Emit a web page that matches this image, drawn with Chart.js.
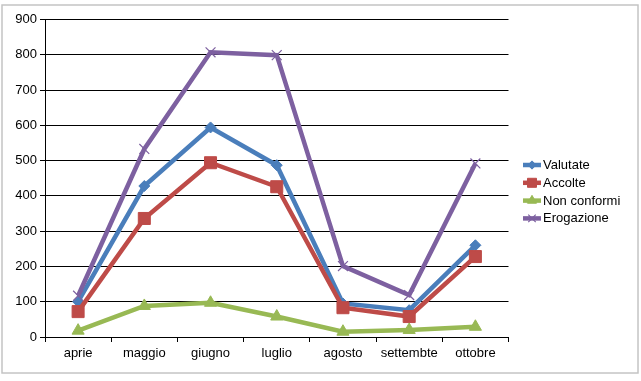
<!DOCTYPE html>
<html>
<head>
<meta charset="utf-8">
<script src="https://cdn.jsdelivr.net/npm/chart.js@4/dist/chart.umd.min.js"></script>
<style>
  html, body { margin: 0; padding: 0; background: #fff; }
  #wrap { width: 641px; height: 381px; }
</style>
</head>
<body>
<div id="wrap"><canvas id="chart" width="641" height="381"></canvas></div>
<script>
const months = ['aprie', 'maggio', 'giugno', 'luglio', 'agosto', 'settembte', 'ottobre'];
const valutate = [100, 428, 594, 487, 95, 76, 260];
const accolte = [72, 336, 494, 426, 83, 58, 228];
const nonConformi = [18, 88, 97, 58, 15, 20, 29];
const erogazione = [117, 533, 807, 799, 201, 119, 492];
const yTicks = [0, 100, 200, 300, 400, 500, 600, 700, 800, 900];

const font = { family: '"Liberation Sans", Arial, sans-serif', size: 13 };

function series(label, data, color, style, radius, order, ptBorder) {
    return {
        label: label,
        data: data,
        borderColor: color,
        backgroundColor: color,
        borderWidth: 4.5,
        pointStyle: style,
        pointRadius: radius,
        pointBorderWidth: ptBorder,
        pointBackgroundColor: color,
        pointBorderColor: color,
        tension: 0,
        order: order
    };
}

const datasets = [
    series('Valutate', valutate, '#4a7ebb', 'rectRot', 5.5, 4, 1),
    series('Accolte', accolte, '#be4b48', 'rect', 8.5, 3, 1),
    series('Non conformi', nonConformi, '#98b954', 'triangle', 7, 2, 1),
    series('Erogazione', erogazione, '#7d60a0', 'crossRot', 7, 1, 1.2)
];

// border round the whole chart, and a legend with line + marker
const framePlugin = {
    id: 'frame',
    beforeDraw(chart) {
        const ctx = chart.ctx;
        ctx.save();
        ctx.fillStyle = '#fff';
        ctx.fillRect(0, 0, chart.width, chart.height);
        ctx.strokeStyle = '#c4c4c4';
        ctx.lineWidth = 1.5;
        ctx.strokeRect(2, 5, 636, 368);
        ctx.restore();
    },
    afterDraw(chart) {
        const ctx = chart.ctx;
        ctx.save();
        ctx.font = font.size + 'px ' + font.family;
        ctx.textBaseline = 'middle';
        ctx.fillStyle = '#000';
        chart.data.datasets.forEach((ds, i) => {
            const y = 165 + i * 17.8;
            ctx.strokeStyle = ds.borderColor;
            ctx.lineWidth = 4.5;
            ctx.beginPath();
            ctx.moveTo(523, y);
            ctx.lineTo(541, y);
            ctx.stroke();
            ctx.fillStyle = ds.borderColor;
            ctx.strokeStyle = ds.borderColor;
            ctx.lineWidth = ds.pointBorderWidth;
            Chart.helpers.drawPoint(ctx, { pointStyle: ds.pointStyle, radius: ds.pointRadius * 0.75, rotation: 0, borderWidth: ds.pointBorderWidth }, 532, y);
            ctx.fillStyle = '#000';
            ctx.fillText(ds.label, 543, y + 0.5);
        });
        ctx.restore();
    }
};

new Chart(document.getElementById('chart'), {
    type: 'line',
    data: { labels: months, datasets: datasets },
    options: {
        responsive: false,
        animation: false,
        layout: { padding: { left: 0, top: 19.5, right: 132.5, bottom: 0 } },
        plugins: { legend: { display: false }, tooltip: { enabled: false } },
        scales: {
            x: {
                type: 'category',
                offset: true,
                grid: { offset: true, drawOnChartArea: false, drawTicks: true, tickLength: 5, color: '#000' },
                border: { color: '#000', width: 1 },
                ticks: { color: '#000', font: font, padding: 4, maxRotation: 0 },
                afterFit(scale) { scale.height = 44; }
            },
            y: {
                min: 0,
                max: 900,
                afterBuildTicks(scale) { scale.ticks = yTicks.map(v => ({ value: v })); },
                grid: { color: '#000', lineWidth: 1, tickLength: 5 },
                border: { color: '#000', width: 1 },
                ticks: { color: '#000', font: font, padding: 3 },
                afterFit(scale) { scale.width = 45; }
            }
        }
    },
    plugins: [framePlugin]
});
</script>
</body>
</html>
